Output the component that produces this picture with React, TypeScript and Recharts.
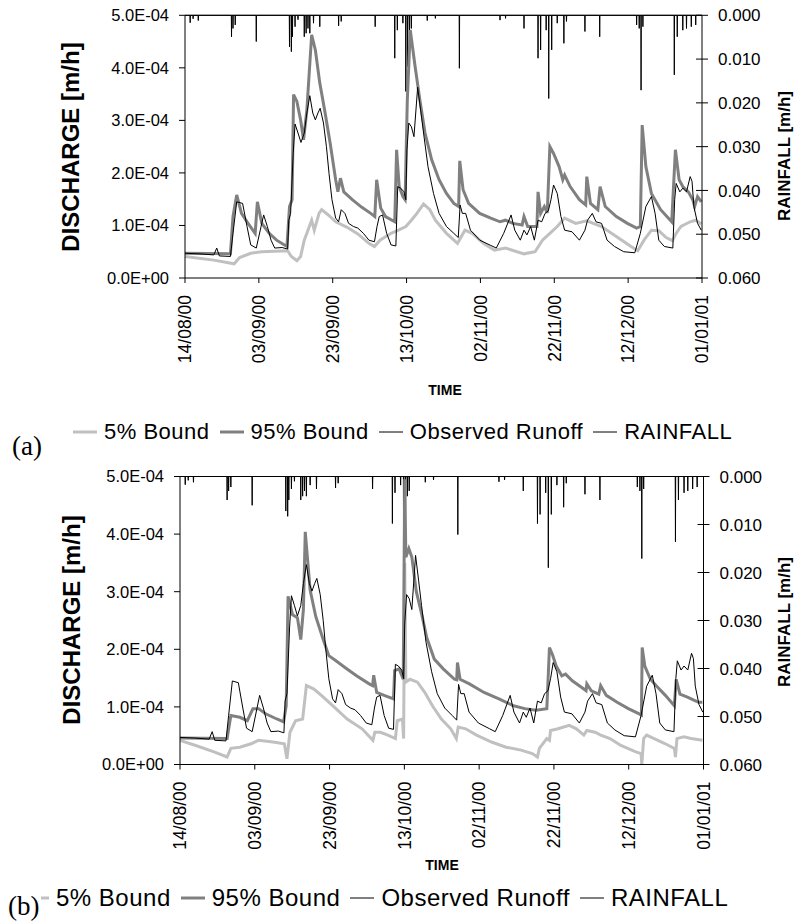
import React from 'react';
import { LineChart, Line, XAxis, YAxis, ReferenceLine } from 'recharts';

// ---------------------------------------------------------------------------
// Data (day 0 = 14/08/00, discharge in 1e-4 m/h, rainfall in 1e-3 m/h)
// ---------------------------------------------------------------------------

type Pt = [number, number];

const dateTicks = [0, 20, 40, 60, 80, 100, 120, 140];
const dateLabels = ['14/08/00', '03/09/00', '23/09/00', '13/10/00', '02/11/00', '22/11/00', '12/12/00', '01/01/01'];
const qTicks = [0, 1, 2, 3, 4, 5];
const qLabels = ['0.0E+00', '1.0E-04', '2.0E-04', '3.0E-04', '4.0E-04', '5.0E-04'];
const rainTicks = [0, 10, 20, 30, 40, 50, 60];
const rainLabels = ['0.000', '0.010', '0.020', '0.030', '0.040', '0.050', '0.060'];

const observed: Pt[] = [
  [0, 0.47], [3.8, 0.46], [7.8, 0.44], [8.6, 0.57], [9.3, 0.42], [12.3, 0.41], [13.0, 0.85], [14.0, 1.45],
  [15.6, 1.42], [16.8, 0.98], [17.8, 0.63], [19.3, 0.57], [20.6, 0.98], [21.3, 1.2], [22.3, 0.98], [23.3, 0.72],
  [24.3, 0.57], [26.3, 0.58], [27.8, 0.55], [28.1, 1.1], [28.6, 1.23], [29.3, 2.37], [29.8, 2.93], [30.6, 2.76],
  [31.4, 2.58], [32.3, 2.76], [33.0, 3.14], [33.8, 3.47], [34.6, 3.14], [35.3, 3.01], [36.0, 3.14], [36.6, 3.23],
  [37.5, 2.95], [38.3, 2.5], [39.0, 1.99], [39.8, 1.49], [40.8, 1.14], [41.6, 1.07], [42.3, 1.3], [43.3, 1.23],
  [44.3, 1.04], [45.6, 0.98], [46.8, 0.95], [48.3, 0.85], [49.8, 0.72], [51.3, 0.69], [52.0, 0.98], [52.6, 1.17],
  [53.5, 1.2], [54.6, 0.85], [55.8, 0.63], [57.1, 0.61], [57.6, 1.74], [58.4, 1.71], [59.3, 1.64], [59.8, 1.49],
  [60.1, 2.44], [60.6, 2.95], [61.3, 2.88], [62.0, 2.69], [63.0, 3.63], [63.8, 3.2], [64.6, 2.76], [65.8, 2.12],
  [67.3, 1.61], [68.8, 1.23], [70.8, 0.98], [72.8, 0.85], [74.0, 0.77], [74.5, 1.39], [75.1, 1.23], [76.0, 1.23],
  [77.3, 0.91], [79.8, 0.72], [82.8, 0.62], [84.3, 0.57], [86.3, 0.85], [88.3, 1.2], [89.3, 0.91], [90.8, 0.72],
  [91.8, 0.91], [92.6, 0.82], [93.6, 0.98], [94.6, 0.72], [95.6, 1.1], [96.6, 1.07], [97.5, 1.23], [98.4, 1.28],
  [99.1, 1.49], [99.8, 1.77], [100.8, 1.61], [101.8, 1.17], [102.8, 0.91], [104.8, 0.88], [106.8, 0.72], [108.3, 0.91],
  [109.0, 1.1], [110.3, 1.23], [111.3, 1.07], [112.8, 1.04], [114.3, 0.72], [116.3, 0.6], [118.8, 0.5], [121.8, 0.48],
  [123.3, 0.85], [124.8, 1.36], [126.3, 1.55], [127.3, 1.23], [128.3, 0.72], [129.8, 0.6], [132.1, 0.57], [132.6, 1.49],
  [133.0, 1.8], [134.0, 1.64], [134.8, 1.71], [135.8, 1.64], [136.8, 1.93], [137.3, 1.84], [137.8, 1.36], [138.8, 1.04],
  [139.8, 0.91],
];

// panel (a)
const upperA: Pt[] = [
  [0, 0.47], [12.3, 0.46], [13.0, 1.17], [14.0, 1.58], [15.3, 1.23], [16.8, 1.07], [19.0, 0.85], [19.6, 1.45],
  [20.8, 1.04], [22.8, 0.85], [24.8, 0.72], [27.6, 0.6], [28.3, 1.36], [29.0, 1.49], [29.4, 3.49], [30.3, 3.36],
  [31.3, 3.01], [32.1, 2.63], [33.0, 3.2], [34.3, 4.63], [35.3, 4.34], [36.5, 3.71], [37.8, 3.2], [39.3, 2.57],
  [40.8, 1.87], [41.4, 1.64], [42.1, 1.9], [43.0, 1.64], [45.3, 1.49], [47.8, 1.35], [50.3, 1.23], [51.4, 1.17],
  [51.9, 1.87], [53.0, 1.33], [54.3, 1.17], [56.8, 1.07], [57.3, 2.44], [58.0, 1.74], [59.0, 1.55], [59.6, 1.49],
  [60.2, 3.39], [61.0, 4.72], [62.3, 4.03], [63.6, 3.39], [65.0, 2.76], [66.8, 2.25], [68.8, 1.87], [70.8, 1.61],
  [72.8, 1.42], [74.1, 1.36], [74.4, 2.23], [75.3, 1.68], [76.8, 1.42], [79.8, 1.23], [82.8, 1.14], [85.3, 1.07],
  [86.8, 1.1], [88.8, 1.04], [91.3, 1.01], [91.8, 1.17], [92.8, 0.98], [95.3, 0.98], [95.6, 1.64], [96.3, 1.23],
  [97.3, 1.36], [98.1, 1.24], [98.8, 2.5], [99.8, 2.37], [101.3, 2.12], [102.3, 1.87], [102.8, 1.96], [104.3, 1.74],
  [106.8, 1.49], [108.5, 1.39], [108.8, 1.93], [109.8, 1.42], [111.8, 1.3], [112.4, 1.74], [113.8, 1.36], [116.8, 1.17],
  [119.8, 1.04], [122.3, 0.95], [123.3, 0.98], [123.8, 2.91], [124.8, 2.12], [126.3, 1.61], [128.8, 1.3], [131.8, 1.07],
  [132.8, 2.44], [133.8, 1.87], [134.8, 1.74], [136.3, 1.64], [137.5, 1.49], [138.0, 1.36], [138.8, 1.55], [139.8, 1.45],
];

const lowerA: Pt[] = [
  [0, 0.41], [7.8, 0.34], [13.3, 0.27], [14.8, 0.39], [17.8, 0.47], [20.8, 0.5], [27.8, 0.52], [28.8, 0.41],
  [30.3, 0.33], [31.3, 0.41], [32.3, 0.72], [33.3, 0.91], [34.3, 1.1], [35.0, 0.91], [36.3, 1.23], [37.0, 1.3],
  [38.8, 1.2], [40.8, 1.07], [43.8, 0.97], [46.8, 0.84], [49.8, 0.66], [51.3, 0.6], [52.8, 0.72], [55.8, 0.85],
  [57.8, 0.91], [59.8, 0.98], [61.3, 1.1], [62.8, 1.23], [64.6, 1.41], [66.3, 1.3], [67.8, 1.1], [70.8, 0.85],
  [73.8, 0.66], [75.8, 0.91], [77.8, 0.85], [80.8, 0.66], [83.8, 0.53], [86.8, 0.57], [91.8, 0.46], [94.8, 0.5],
  [96.8, 0.72], [98.8, 0.85], [100.8, 0.98], [102.8, 1.14], [105.8, 1.04], [108.8, 1.09], [112.8, 0.98], [116.8, 0.79],
  [120.8, 0.6], [122.6, 0.52], [124.3, 0.72], [126.3, 0.91], [128.3, 0.9], [130.3, 0.77], [132.0, 0.71], [133.0, 0.85],
  [134.3, 0.98], [136.8, 1.07], [138.3, 1.1], [139.8, 1.03],
];

// panel (b)
const upperB: Pt[] = [
  [0, 0.46], [12.6, 0.45], [13.6, 0.85], [16.0, 0.82], [18.0, 0.76], [19.5, 0.97], [21.0, 0.97], [22.9, 0.88],
  [25.9, 0.79], [27.7, 0.74], [28.4, 1.02], [28.9, 2.92], [30.1, 2.6], [31.4, 2.55], [32.3, 2.17], [33.0, 2.69],
  [33.5, 4.04], [34.8, 3.03], [36.3, 2.57], [38.3, 2.17], [39.8, 1.89], [41.7, 1.8], [44.2, 1.68], [47.2, 1.54],
  [50.6, 1.4], [51.5, 1.37], [51.8, 1.55], [52.6, 1.25], [54.6, 1.2], [57.1, 1.14], [57.4, 1.63], [58.6, 1.66],
  [59.7, 1.48], [60.1, 4.95], [60.4, 3.6], [61.2, 3.75], [62.0, 3.6], [63.2, 3.0], [64.5, 2.65], [66.0, 2.2],
  [68.0, 1.83], [70.4, 1.66], [73.4, 1.48], [74.0, 1.47], [74.2, 1.77], [74.9, 1.48], [77.4, 1.4], [81.3, 1.25],
  [85.3, 1.14], [89.2, 1.02], [92.2, 0.97], [95.2, 0.94], [98.1, 0.97], [98.8, 2.03], [99.6, 1.91], [100.6, 1.71],
  [102.1, 1.54], [103.1, 1.57], [105.0, 1.45], [108.0, 1.31], [108.6, 1.28], [108.8, 1.4], [110.0, 1.28], [112.0, 1.22],
  [112.5, 1.37], [114.0, 1.2], [116.9, 1.08], [119.9, 0.97], [122.8, 0.88], [123.4, 0.86], [123.6, 2.03], [124.3, 1.71],
  [125.8, 1.48], [127.3, 1.37], [129.8, 1.2], [132.2, 1.02], [132.7, 1.48], [133.7, 1.22], [135.7, 1.17], [137.7, 1.11],
  [138.7, 1.08], [139.7, 1.08],
];

const lowerB: Pt[] = [
  [0, 0.42], [4.2, 0.33], [9.1, 0.22], [12.6, 0.13], [13.6, 0.28], [16.0, 0.3], [19.0, 0.36], [21.0, 0.42],
  [24.9, 0.39], [27.9, 0.36], [28.6, 0.1], [29.4, 0.56], [30.9, 0.76], [32.8, 0.79], [33.8, 1.37], [35.8, 1.31],
  [37.8, 1.2], [41.7, 0.97], [44.7, 0.79], [48.7, 0.62], [51.6, 0.42], [52.1, 0.56], [53.6, 0.56], [55.6, 0.51],
  [57.6, 0.45], [58.1, 0.76], [59.5, 0.79], [59.8, 0.45], [60.1, 3.5], [60.4, 1.43], [61.5, 1.48], [63.5, 1.43],
  [65.5, 1.25], [67.5, 1.02], [69.9, 0.79], [72.4, 0.62], [73.9, 0.45], [74.4, 0.65], [76.4, 0.62], [79.3, 0.51],
  [83.3, 0.39], [87.2, 0.3], [91.2, 0.25], [94.2, 0.19], [95.6, 0.13], [96.1, 0.28], [98.1, 0.45], [98.8, 0.42],
  [99.1, 0.59], [101.1, 0.62], [104.1, 0.68], [106.0, 0.62], [108.0, 0.51], [108.8, 0.59], [111.0, 0.56], [112.5, 0.51],
  [115.0, 0.45], [117.9, 0.33], [121.9, 0.22], [123.3, 0.19], [123.5, 0.0], [124.0, 0.45], [124.8, 0.51], [126.8, 0.45],
  [129.8, 0.36], [132.2, 0.28], [132.5, 0.13], [132.9, 0.45], [134.7, 0.48], [136.7, 0.45], [139.7, 0.42],
];

const rainfall: Pt[] = [
  [1.4, 1.7], [2.2, 0.8], [3.6, 1.2], [12.6, 4.9], [13.0, 3.0], [13.6, 2.2], [19.3, 6.0], [28.3, 7.2],
  [28.8, 8.3], [29.1, 4.9], [29.8, 2.6], [30.6, 1.0], [32.3, 4.9], [32.8, 4.1], [33.3, 3.0], [33.8, 4.1],
  [34.8, 1.8], [36.5, 2.6], [41.6, 2.4], [42.3, 1.4], [51.5, 2.6], [56.8, 9.8], [57.5, 3.4], [59.0, 1.8],
  [59.8, 17.4], [60.3, 11.7], [60.8, 4.1], [61.3, 3.0], [65.6, 1.2], [67.8, 0.7], [74.3, 12.1], [85.3, 1.1],
  [86.8, 0.7], [91.8, 3.0], [95.6, 9.8], [96.3, 7.9], [97.8, 3.4], [98.5, 19.0], [99.3, 7.9], [100.8, 1.8],
  [102.6, 6.4], [103.3, 1.4], [108.3, 3.7], [112.3, 4.9], [122.3, 2.2], [123.0, 3.0], [123.5, 17.1], [124.0, 2.6],
  [132.5, 13.6], [133.3, 4.9], [134.8, 3.4], [135.8, 3.0], [137.1, 2.6], [138.3, 2.2],
];

const SERIES = [
  { name: '5% Bound', color: '#c0c0c0', width: 3 },
  { name: '95% Bound', color: '#808080', width: 3 },
  { name: 'Observed Runoff', color: '#000', width: 1 },
  { name: 'RAINFALL', color: '#000', width: 1 },
];

// ---------------------------------------------------------------------------
// Helpers
// ---------------------------------------------------------------------------

const PAGE_W = 798;
const X_AXIS_H = 90;
const FONT = '"Liberation Sans", Arial, sans-serif';

const rows = (pts: Pt[]) => pts.map(([d, v]) => ({ d, v }));

// each rain record is a one-hour spike hanging from the top of the plot
const rainRows = [
  { d: 0, v: 0 },
  ...rainfall.flatMap(([d, v]) => [{ d: d - 0.06, v: 0 }, { d, v }, { d: d + 0.06, v: 0 }]),
  { d: 140, v: 0 },
];

function DateTick({ x, y, payload }: { x?: number; y?: number; payload?: { value: number } }) {
  if (x == null || y == null || !payload) return null;
  return (
    <text x={x} y={y} dy="0.36em" transform={`rotate(-90 ${x} ${y})`} textAnchor="end" fontSize={17.5} fill="#000">
      {dateLabels[dateTicks.indexOf(payload.value)]}
    </text>
  );
}

function RainTick({ y, payload, axisX }: { y?: number; payload?: { value: number }; axisX: number }) {
  if (y == null || !payload) return null;
  return (
    <g>
      <line x1={axisX - 6} x2={axisX + 6} y1={y} y2={y} stroke="#000" />
      <text x={axisX + 16} y={y} dy="0.36em" fontSize={17} fill="#000">
        {rainLabels[rainTicks.indexOf(payload.value)]}
      </text>
    </g>
  );
}

type Layout = { top: number; plotTop: number; plotBottom: number; left: number; right: number };

function HydroChart({ layout, upper, lower }: { layout: Layout; upper: Pt[]; lower: Pt[] }) {
  const { top, plotTop, plotBottom, left, right } = layout;
  return (
    <div style={{ position: 'absolute', left: 0, top }}>
      <LineChart width={PAGE_W} height={plotBottom - top + X_AXIS_H} margin={{ top: plotTop - top, right: 0, bottom: 0, left: 0 }}>
        <XAxis type="number" dataKey="d" domain={[0, 140]} ticks={dateTicks} interval={0} height={X_AXIS_H}
          stroke="#000" tickSize={5} tickMargin={12} tick={<DateTick />} />
        <YAxis yAxisId="q" type="number" domain={[0, 5]} ticks={qTicks} interval={0} width={left}
          stroke="#000" tickSize={6} tickMargin={10} tick={{ fontSize: 16.5, fill: '#000' }}
          tickFormatter={(v: number) => qLabels[qTicks.indexOf(v)]} />
        <YAxis yAxisId="r" orientation="right" reversed type="number" domain={[0, 60]} ticks={rainTicks} interval={0}
          width={PAGE_W - right} stroke="#000" tickLine={false} tick={<RainTick axisX={right} />} />
        <ReferenceLine yAxisId="q" y={5} stroke="#000" />
        <Line yAxisId="r" data={rainRows} dataKey="v" type="linear" stroke="#000" strokeWidth={1} dot={false} isAnimationActive={false} />
        <Line yAxisId="q" data={rows(lower)} dataKey="v" type="linear" stroke="#c0c0c0" strokeWidth={3} dot={false} isAnimationActive={false} />
        <Line yAxisId="q" data={rows(upper)} dataKey="v" type="linear" stroke="#808080" strokeWidth={3} dot={false} isAnimationActive={false} />
        <Line yAxisId="q" data={rows(observed)} dataKey="v" type="linear" stroke="#000" strokeWidth={1} dot={false} isAnimationActive={false} />
      </LineChart>
    </div>
  );
}

function Caption({ x, y, size, bold = true, rotate = 0, children }: {
  x: number; y: number; size: number; bold?: boolean; rotate?: number; children: React.ReactNode;
}) {
  return (
    <div style={{
      position: 'absolute', left: x, top: y, transform: `translate(-50%, -50%) rotate(${rotate}deg)`,
      fontSize: size, fontWeight: bold ? 'bold' : 'normal', whiteSpace: 'nowrap', lineHeight: 1,
    }}>{children}</div>
  );
}

function LegendRow({ x, y, size }: { x: number; y: number; size: number }) {
  return (
    <div style={{
      position: 'absolute', left: x, top: y, transform: 'translateY(-50%)', display: 'flex', alignItems: 'center',
      fontSize: size, letterSpacing: 0.5, whiteSpace: 'nowrap', lineHeight: 1,
    }}>
      {SERIES.map(s => (
        <div key={s.name} style={{ display: 'flex', alignItems: 'center', marginRight: 10 }}>
          <svg width={24} height={6}><line x1={0} x2={24} y1={3} y2={3} stroke={s.color} strokeWidth={s.width} /></svg>
          <span style={{ marginLeft: 7 }}>{s.name}</span>
        </div>
      ))}
    </div>
  );
}

function PanelTag({ x, y, text }: { x: number; y: number; text: string }) {
  return (
    <div style={{
      position: 'absolute', left: x, top: y, transform: 'translateY(-50%)', fontFamily: '"Liberation Serif", serif',
      fontSize: 27, lineHeight: 1, background: '#fff', paddingRight: 2,
    }}>{text}</div>
  );
}

// ---------------------------------------------------------------------------
// App
// ---------------------------------------------------------------------------

const layoutA: Layout = { top: 0, plotTop: 15.3, plotBottom: 278, left: 185, right: 702 };
const layoutB: Layout = { top: 460, plotTop: 476.5, plotBottom: 764.5, left: 180, right: 703.5 };

export default function App() {
  return (
    <div style={{ position: 'absolute', left: 0, top: 0, width: PAGE_W, height: 924, background: '#fff', fontFamily: FONT, color: '#000' }}>
      <HydroChart layout={layoutA} upper={upperA} lower={lowerA} />
      <Caption x={71} y={147} size={24} rotate={-90}>DISCHARGE [m/h]</Caption>
      <Caption x={784} y={156} size={17} rotate={-90}>RAINFALL [m/h]</Caption>
      <Caption x={445} y={390} size={14}>TIME</Caption>
      <LegendRow x={73} y={432} size={22} />
      <PanelTag x={12} y={446} text="(a)" />

      <HydroChart layout={layoutB} upper={upperB} lower={lowerB} />
      <Caption x={72} y={620} size={24} rotate={-90}>DISCHARGE [m/h]</Caption>
      <Caption x={784} y={622} size={17} rotate={-90}>RAINFALL [m/h]</Caption>
      <Caption x={442} y={865} size={14}>TIME</Caption>
      <LegendRow x={25} y={898} size={24} />
      <PanelTag x={8} y={906} text="(b)" />
    </div>
  );
}
